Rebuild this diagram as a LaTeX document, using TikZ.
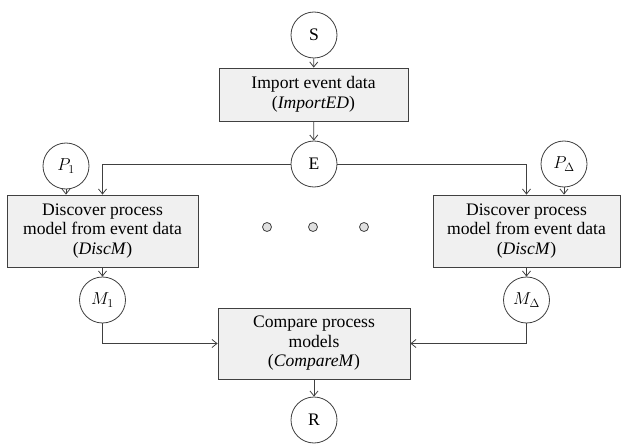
\documentclass[tikz,border=0pt]{standalone}
\usepackage{fontspec}
\setmainfont{Liberation Serif}
\usetikzlibrary{arrows.meta,shadows}
\tikzset{
  circ/.style={circle,draw=black!75,line width=0.8pt,fill=white,minimum size=46pt,inner sep=0pt},
  proc/.style={rectangle,draw=black!75,line width=0.8pt,fill=black!6,align=center,inner sep=1pt,
    drop shadow={shadow xshift=1.2pt,shadow yshift=-1.2pt,fill=black!25,opacity=0.6}},
  dot/.style={circle,draw=black!75,line width=0.8pt,fill=black!12,minimum size=9pt,inner sep=0pt},
  flow/.style={-{Straight Barb[length=5pt,width=8pt]},draw=black!75,line width=0.8pt}
}
\begin{document}
\begin{tikzpicture}[x=1pt,y=-1pt,font=\fontsize{17.6}{19.5}\selectfont]
  \useasboundingbox (0,0) rectangle (622,444);
  \node[circ] (S) at (314,35) {S};
  \node[proc,minimum width=189pt,minimum height=53pt] (imp) at (313.5,94.5)
    {Import event data\\(\textit{ImportED})};
  \node[circ] (E) at (314,164) {E};
  \node[circ] (P1) at (66,166) {$P_1$};
  \node[circ] (PD) at (564,164) {$P_\Delta$};
  \node[proc,minimum width=191pt,minimum height=72pt] (disc1) at (102.5,231)
    {Discover process\\model from event data\\(\textit{DiscM})};
  \node[proc,minimum width=187pt,minimum height=72pt] (disc2) at (526.5,231)
    {Discover process\\model from event data\\(\textit{DiscM})};
  \node[dot] (d1) at (267,227) {};
  \node[dot] (d2) at (313,227) {};
  \node[dot] (d3) at (364,227) {};
  \node[circ] (M1) at (102.5,300) {$M_1$};
  \node[circ] (MD) at (526.5,300) {$M_\Delta$};
  \node[proc,minimum width=192pt,minimum height=71pt] (cmp) at (314,343.5)
    {Compare process\\models\\(\textit{CompareM})};
  \node[circ] (R) at (314,420) {R};

  \draw[flow] (S) -- (imp);
  \draw[flow] (imp) -- (E);
  \draw[flow] (E) -| (disc1.north);
  \draw[flow] (E) -| (disc2.north);
  \draw[flow] (P1) -- (P1 |- disc1.north);
  \draw[flow] (PD) -- (PD |- disc2.north);
  \draw[flow] (disc1) -- (M1);
  \draw[flow] (disc2) -- (MD);
  \draw[flow] (M1) |- (cmp.west);
  \draw[flow] (MD) |- (cmp.east);
  \draw[flow] (cmp) -- (R);
\end{tikzpicture}
\end{document}
